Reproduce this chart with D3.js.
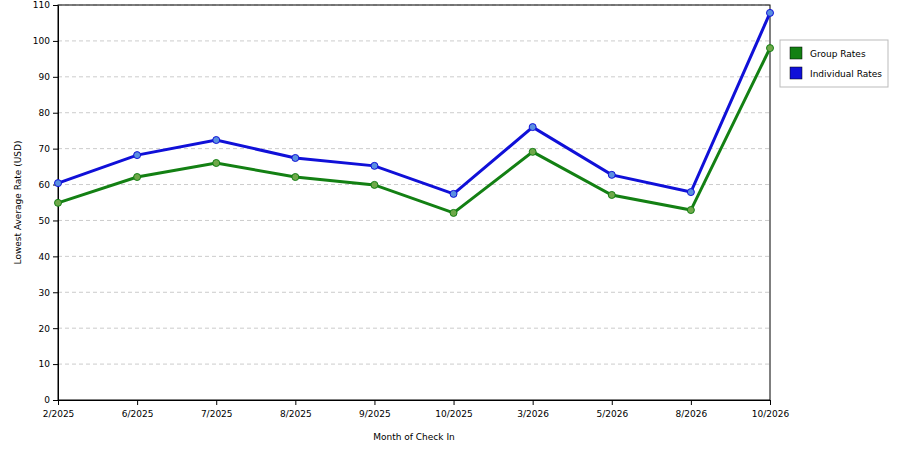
<!DOCTYPE html>
<html><head><meta charset="utf-8">
<script src="https://cdn.jsdelivr.net/npm/d3@7"></script>
<style>body{margin:0;background:#fff}text{font-family:"DejaVu Sans",sans-serif;font-size:9px;fill:#000}</style>
</head><body><svg id="c" width="900" height="450"></svg>
<script>
const months = ["2/2025","6/2025","7/2025","8/2025","9/2025","10/2025","3/2026","5/2026","8/2026","10/2026"];
const groupRates = [54.9,62.1,66,62.1,59.9,52.1,69.1,57.1,52.9,98];
const individualRates = [60.4,68.2,72.4,67.4,65.2,57.4,76,62.7,57.9,107.8];
const yTicks = d3.range(0,111,10);

const svg = d3.select("#c");
const m = {left:58, right:770, top:5, bottom:400};
const x = d3.scalePoint().domain(months).range([m.left, m.right]);
const y = d3.scaleLinear().domain([0,110]).range([m.bottom, m.top]);

// grid
svg.append("g").selectAll("line").data(yTicks.slice(1)).join("line")
  .attr("x1",m.left).attr("x2",m.right).attr("y1",d=>y(d)).attr("y2",d=>y(d))
  .attr("stroke","#ccc").attr("stroke-dasharray","4,3");
svg.append("rect").attr("x",m.left).attr("y",m.top).attr("width",m.right-m.left).attr("height",m.bottom-m.top)
  .attr("fill","none").attr("stroke","#000");

svg.append("g").attr("transform",`translate(0,${m.bottom})`)
  .call(d3.axisBottom(x).tickSize(5).tickSizeOuter(0)).call(g=>g.selectAll("text").attr("dy","1em"));
svg.append("g").attr("transform",`translate(${m.left},0)`)
  .call(d3.axisLeft(y).tickValues(yTicks).tickSize(5).tickSizeOuter(0));
svg.selectAll(".domain").attr("stroke","#000");
svg.selectAll(".tick text").style("font-family","DejaVu Sans").style("font-size","9px");

svg.append("text").attr("x",(m.left+m.right)/2).attr("y",440).attr("text-anchor","middle").text("Month of Check In");
svg.append("text").attr("transform",`translate(21,${(m.top+m.bottom)/2}) rotate(-90)`).attr("text-anchor","middle").text("Lowest Average Rate (USD)");

const series = [
  {name:"Group Rates", vals:groupRates, c:"#138013", p:"#6fa84a"},
  {name:"Individual Rates", vals:individualRates, c:"#1010d8", p:"#5a8fe0"}
];
const line = d3.line().x((d,i)=>x(months[i])).y(d=>y(d));
series.forEach(s=>{
  svg.append("path").datum(s.vals).attr("d",line).attr("fill","none").attr("stroke",s.c).attr("stroke-width",3);
  svg.append("g").selectAll("circle").data(s.vals).join("circle")
    .attr("cx",(d,i)=>x(months[i])).attr("cy",d=>y(d)).attr("r",3.5)
    .attr("fill",s.p).attr("stroke",s.c).attr("stroke-width",1);
});

// legend
const lg = svg.append("g");
lg.append("rect").attr("x",780).attr("y",40).attr("width",108).attr("height",47).attr("fill","#fff").attr("stroke","#bbb");
series.forEach((s,i)=>{
  lg.append("rect").attr("x",790).attr("y",47+i*20).attr("width",12).attr("height",12).attr("fill",s.c).attr("stroke","#000").attr("stroke-width",0.5);
  lg.append("text").attr("x",810).attr("y",57+i*20).text(s.name);
});
</script></body></html>
